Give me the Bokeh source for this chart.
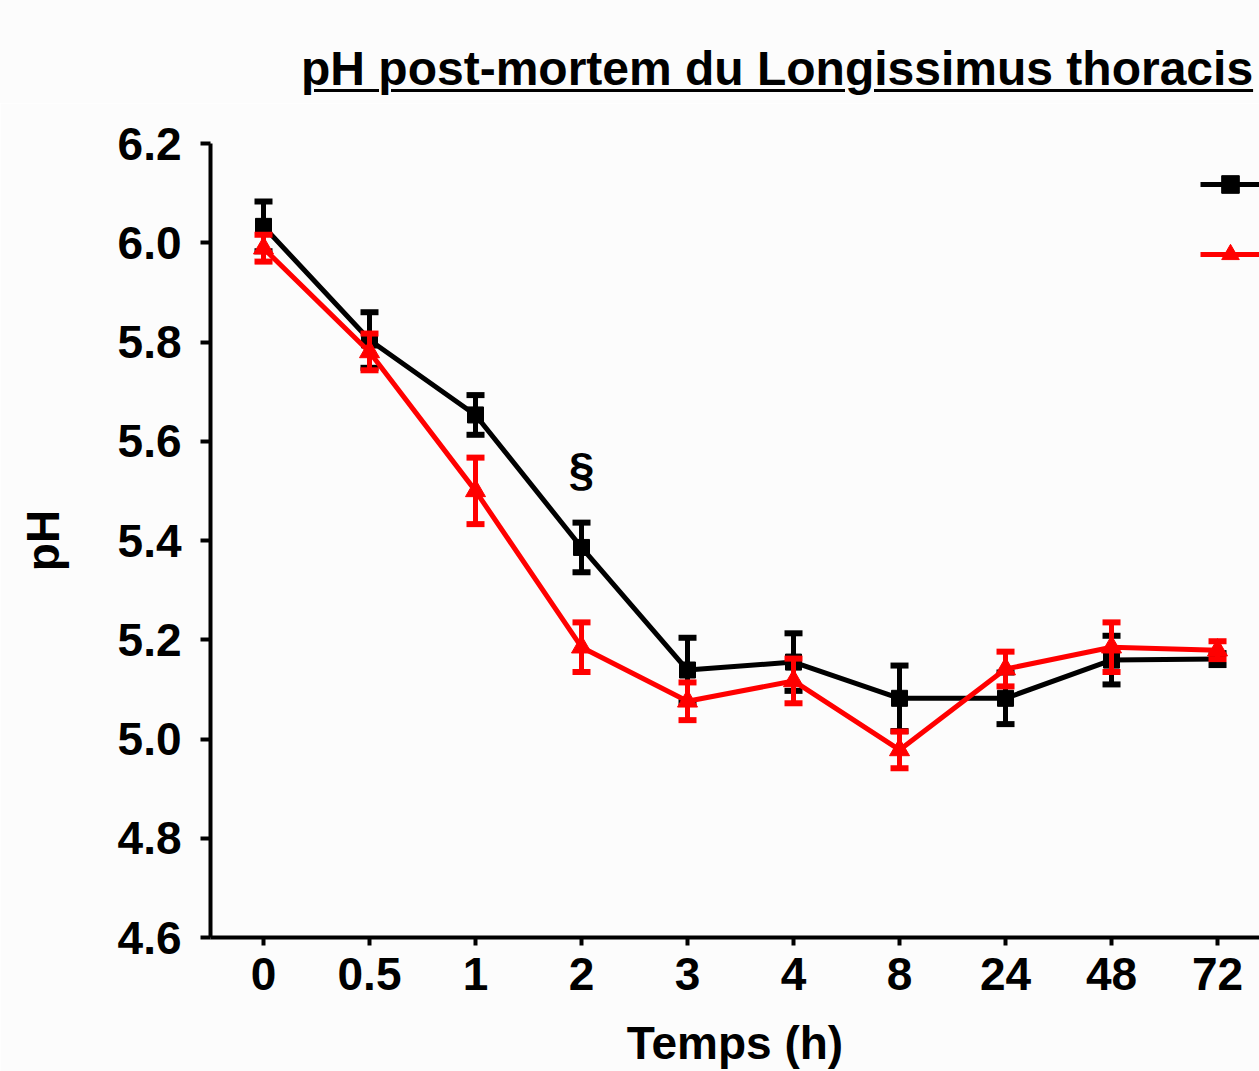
from bokeh.plotting import figure
from bokeh.models import Range1d, FixedTicker, Legend, LegendItem, Div, ColumnDataSource
from bokeh.layouts import column
from bokeh.embed import file_html
from bokeh.resources import INLINE
from bokeh.core.properties import value

# ---------------- data ----------------
title_text = "pH post-mortem du Longissimus thoracis"
x_title = "Temps (h)"
y_title = "pH"
time_labels = ["0", "0.5", "1", "2", "3", "4", "8", "24", "48", "72"]
black_mean = [6.033, 5.804, 5.653, 5.386, 5.139, 5.155, 5.082, 5.082, 5.159, 5.161]
black_se = [0.050, 0.056, 0.040, 0.050, 0.065, 0.058, 0.066, 0.052, 0.049, 0.012]
red_mean = [5.989, 5.780, 5.500, 5.185, 5.076, 5.117, 4.978, 5.141, 5.185, 5.179]
red_se = [0.027, 0.037, 0.067, 0.050, 0.038, 0.045, 0.037, 0.035, 0.050, 0.018]
y_ticks = [4.6, 4.8, 5.0, 5.2, 5.4, 5.6, 5.8, 6.0, 6.2]
y_tick_labels = ["4.6", "4.8", "5.0", "5.2", "5.4", "5.6", "5.8", "6.0", "6.2"]
sig_time = ["2"]
sig_y = [5.545]
sig_text = ["§"]

FONT = "Liberation Sans"
BG = "#fcfcfc"

idx = list(range(len(time_labels)))


def series_source(mean, se):
    return ColumnDataSource(dict(
        x=idx, y=mean,
        lo=[m - s for m, s in zip(mean, se)],
        hi=[m + s for m, s in zip(mean, se)],
    ))


src_black = series_source(black_mean, black_se)
src_red = series_source(red_mean, red_se)

p = figure(width=1259, height=968, output_backend="svg", toolbar_location=None,
           x_range=Range1d(-0.5, 9.396), y_range=Range1d(4.6, 6.2),
           min_border_left=210, min_border_right=0, min_border_top=40, min_border_bottom=132)
p.background_fill_color = BG
p.border_fill_color = BG
p.outline_line_color = None
p.xgrid.visible = False
p.ygrid.visible = False

# axes
for ax in (p.xaxis[0], p.yaxis[0]):
    ax.axis_line_width = 4
    ax.axis_line_color = "black"
    ax.major_tick_line_width = 4
    ax.major_tick_in = 0
    ax.minor_tick_line_color = None
    ax.major_label_text_font = FONT
    ax.major_label_text_font_style = "bold"
    ax.major_label_text_font_size = "46px"
    ax.major_label_text_color = "black"
    ax.axis_label_text_font = FONT
    ax.axis_label_text_font_style = "bold"
    ax.axis_label_text_font_size = "46px"
    ax.axis_label_text_color = "black"

p.xaxis[0].ticker = FixedTicker(ticks=idx)
p.xaxis[0].major_label_overrides = {i: t for i, t in zip(idx, time_labels)}
p.xaxis[0].major_tick_out = 8
p.xaxis[0].major_label_standoff = 12
p.xaxis[0].axis_label = x_title
p.xaxis[0].axis_label_standoff = 24

p.yaxis[0].ticker = FixedTicker(ticks=y_ticks)
p.yaxis[0].major_label_overrides = {t: l for t, l in zip(y_ticks, y_tick_labels)}
p.yaxis[0].major_tick_out = 10
p.yaxis[0].major_label_standoff = 19
p.yaxis[0].axis_label = y_title
p.yaxis[0].axis_label_standoff = 46


def draw_series(src, color, marker, msize):
    ln = p.line("x", "y", source=src, line_color=color, line_width=5)
    p.segment("x", "lo", "x", "hi", source=src, line_color=color, line_width=5)
    p.scatter("x", "hi", source=src, marker="dash", size=18, line_color=color, line_width=6)
    p.scatter("x", "lo", source=src, marker="dash", size=18, line_color=color, line_width=6)
    mk = p.scatter("x", "y", source=src, marker=marker, size=msize,
                   fill_color=color, line_color=color, line_width=1)
    return ln, mk


bl, bm = draw_series(src_black, "black", "square", 16)
rl, rm = draw_series(src_red, "#ff0000", "triangle", 20)

# significance mark
sig_src = ColumnDataSource(dict(x=[time_labels.index(t) for t in sig_time], y=sig_y, t=sig_text))
p.text("x", "y", text="t", source=sig_src, text_font=value(FONT), text_font_style="bold",
       text_font_size="46px", text_align="center", text_baseline="middle", text_color="black")

legend = Legend(items=[LegendItem(label=value(""), renderers=[bl, bm]),
                       LegendItem(label=value(""), renderers=[rl, rm])],
                location=(990, 661), padding=0, margin=0, spacing=26,
                glyph_width=60, glyph_height=44, label_height=44, label_width=0,
                label_standoff=0, border_line_alpha=0, background_fill_alpha=0)
p.add_layout(legend)

title_div = Div(
    text=('<div style="margin:0; padding-top:45px; padding-left:301px; white-space:nowrap; '
          'font-family:\'Liberation Sans\'; font-weight:bold; font-size:48px; line-height:1; '
          'color:black; text-decoration:underline; text-decoration-thickness:3px; '
          'text-underline-offset:4px;">' + title_text + '</div>'),
    width=1259, height=103, styles={"background-color": BG, "margin": "0"})

layout = column(title_div, p, spacing=0)

open("out.html", "w").write(file_html(layout, INLINE))
